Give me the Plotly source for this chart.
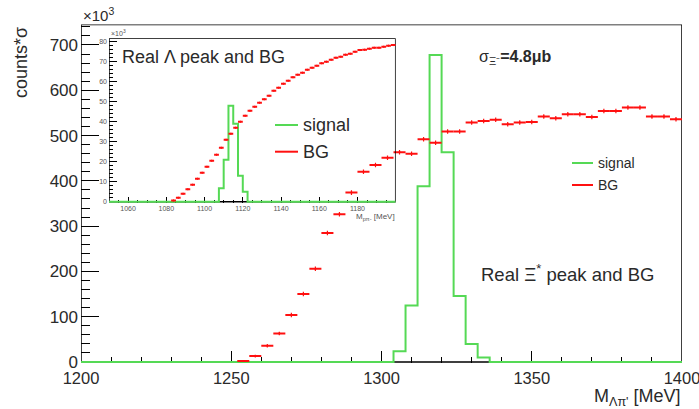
import plotly.graph_objects as go

W, H = 699, 409

# ---------------- data: main plot (4 MeV bins) ----------------
main_bin_width = 4
sig_main_lo = [1304, 1308, 1312, 1316, 1320, 1324, 1328, 1332]
sig_main_counts = [24, 125, 388, 678, 463, 146, 40, 10]

bg_main_x = [1254, 1258, 1262, 1266, 1270, 1274, 1278, 1282, 1286, 1290,
             1294, 1298, 1302, 1306, 1310, 1314, 1318, 1322, 1326, 1330,
             1334, 1338, 1342, 1346, 1350, 1354, 1358, 1362, 1366, 1370,
             1374, 1378, 1382, 1386, 1390, 1394, 1398]
bg_main_y = [2, 13, 36, 63, 104, 150, 206, 285, 326, 374,
             420, 435, 451, 463, 460, 492, 484, 509, 509, 529,
             532, 535, 525, 529, 530, 542, 538, 547, 547, 541,
             554, 554, 562, 562, 542, 542, 536]
bg_main_err = [2, 3, 4, 4, 5, 5, 5, 5, 5, 5,
               5, 5, 5, 5, 5, 5, 5, 5, 5, 5,
               5, 5, 5, 5, 5, 5, 5, 5, 5, 5,
               5, 5, 5, 5, 5, 5, 5]

# ---------------- data: inset (2.5 MeV bins, x10^3) ----------------
inset_bin_width = 2.5
sig_in_lo = [1107.5, 1110.0, 1112.5, 1115.0, 1117.5, 1120.0]
sig_in_counts = [6.7, 21.0, 48.0, 39.0, 13.0, 5.0]

bg_in_x = [1083.75, 1086.25, 1088.75, 1091.25, 1093.75, 1096.25, 1098.75,
           1101.25, 1103.75, 1106.25, 1108.75, 1111.25, 1113.75, 1116.25,
           1118.75, 1121.25, 1123.75, 1126.25, 1128.75, 1131.25, 1133.75,
           1136.25, 1138.75, 1141.25, 1143.75, 1146.25, 1148.75, 1151.25,
           1153.75, 1156.25, 1158.75, 1161.25, 1163.75, 1166.25, 1168.75,
           1171.25, 1173.75, 1176.25, 1178.75, 1181.25, 1183.75, 1186.25,
           1188.75, 1191.25, 1193.75, 1196.25, 1198.75]
bg_in_y = [0.6, 2.0, 4.0, 6.2, 8.5, 11.5, 14.5,
           17.5, 20.5, 23.5, 27.0, 31.0, 34.0, 37.0,
           40.0, 43.0, 45.5, 47.5, 49.5, 51.2, 53.0,
           55.5, 57.0, 59.0, 60.5, 62.2, 63.5, 64.5,
           66.0, 67.0, 68.0, 69.2, 70.0, 71.0, 72.0,
           72.5, 73.5, 74.0, 75.0, 75.8, 76.0, 76.5,
           77.0, 77.0, 77.5, 78.0, 78.3]

main_xrange = [1200, 1400]
main_yrange = [-3, 745]
inset_xrange = [1050, 1200]
inset_yrange = [-0.8, 81.7]

GREEN = "#55d955"
RED = "#ff1010"
TXT = "#2a2a2a"
FONT = "Liberation Sans"


def step_outline(lo, counts, width, xmin, xmax):
    xs = [xmin, lo[0]]
    ys = [0, 0]
    for l, c in zip(lo, counts):
        xs += [l, l + width]
        ys += [c, c]
    xs += [lo[-1] + width, xmax]
    ys += [0, 0]
    return xs, ys


def px(x):
    return x / W


def py(y):
    return 1 - y / H


fig = go.Figure()

# main histograms
sx, sy = step_outline(sig_main_lo, sig_main_counts, main_bin_width, *main_xrange)
fig.add_trace(go.Scatter(x=sx, y=sy, mode="lines", line=dict(color=GREEN, width=2),
                         xaxis="x", yaxis="y", hoverinfo="skip"))
fig.add_trace(go.Scatter(x=bg_main_x, y=bg_main_y, mode="markers",
                         marker=dict(color=RED, size=2),
                         error_x=dict(type="constant", value=main_bin_width / 2, width=0,
                                      color=RED, thickness=2),
                         error_y=dict(type="data", array=bg_main_err, width=0,
                                      color=RED, thickness=1.2),
                         xaxis="x", yaxis="y"))

# inset histograms
ix, iy = step_outline(sig_in_lo, sig_in_counts, inset_bin_width, *inset_xrange)
fig.add_trace(go.Scatter(x=ix, y=iy, mode="lines", line=dict(color=GREEN, width=2),
                         xaxis="x2", yaxis="y2", hoverinfo="skip"))
fig.add_trace(go.Scatter(x=bg_in_x, y=bg_in_y, mode="markers",
                         marker=dict(color=RED, size=1.5),
                         error_x=dict(type="constant", value=inset_bin_width / 2, width=0,
                                      color=RED, thickness=2),
                         error_y=dict(type="constant", value=0.5, width=0,
                                      color=RED, thickness=1),
                         xaxis="x2", yaxis="y2"))

axis_common = dict(showline=False, showgrid=False, zeroline=False, ticks="inside",
                   tickcolor="black", layer="below traces", ticklabeloverflow="allow",
                   automargin=False)

fig.update_layout(
    template="none",
    width=W, height=H, margin=dict(l=0, r=0, t=0, b=0, autoexpand=False),
    paper_bgcolor="white", plot_bgcolor="rgba(0,0,0,0)",
    showlegend=False,
    font=dict(family=FONT, color=TXT),
    xaxis=dict(domain=[81 / W, 682 / W], range=main_xrange, anchor="y",
               tickvals=[1200, 1250, 1300, 1350, 1400], ticklen=12, tickwidth=1.2,
               minor=dict(ticks="inside", dtick=10, ticklen=6, tickcolor="black", tickwidth=1),
               tickfont=dict(size=16.5, family=FONT, color=TXT), ticklabelstandoff=3,
               **axis_common),
    yaxis=dict(domain=[(H - 363.36) / H, (H - 24.59) / H], range=main_yrange, anchor="x",
               tickvals=[0, 100, 200, 300, 400, 500, 600, 700], ticklen=18, tickwidth=1.2,
               minor=dict(ticks="inside", dtick=20, tick0=0, ticklen=9, tickcolor="black", tickwidth=1),
               tickfont=dict(size=17, family=FONT, color=TXT), ticklabelstandoff=2,
               **axis_common),
    xaxis2=dict(domain=[109 / W, 395.7 / W], range=inset_xrange, anchor="y2",
                tickvals=[1060, 1080, 1100, 1120, 1140, 1160, 1180], ticklen=6, tickwidth=1,
                minor=dict(ticks="inside", dtick=5, ticklen=3, tickcolor="black", tickwidth=1),
                tickfont=dict(size=7, family=FONT, color="#555"), **axis_common),
    yaxis2=dict(domain=[(H - 203.3) / H, (H - 38.3) / H], range=inset_yrange, anchor="x2",
                tickvals=[0, 10, 20, 30, 40, 50, 60, 70, 80], ticklen=8, tickwidth=1,
                minor=dict(ticks="inside", dtick=2, tick0=0, ticklen=4, tickcolor="black", tickwidth=1),
                tickfont=dict(size=7, family=FONT, color="#555"), ticklabelstandoff=1,
                **axis_common),
)

# frames (drawn below traces so the green zero-line covers the base)
fig.add_shape(type="rect", xref="x", yref="y", x0=main_xrange[0], x1=main_xrange[1],
              y0=0, y1=main_yrange[1], line=dict(color="black", width=1.5), layer="below")
fig.add_shape(type="rect", xref="x2", yref="y2", x0=inset_xrange[0], x1=inset_xrange[1],
              y0=0, y1=inset_yrange[1], line=dict(color="black", width=1.5), layer="below")

# legends (drawn manually, ROOT style)
for (x0, x1, y, col) in [(572, 593, 163, GREEN), (572, 593, 185, RED),
                         (275, 298, 125, GREEN), (275, 298, 151.7, RED)]:
    fig.add_shape(type="line", xref="paper", yref="paper", x0=px(x0), x1=px(x1),
                  y0=py(y), y1=py(y), line=dict(color=col, width=2))


def label(text, x, y, size, xanchor="left", yanchor="middle", angle=0, color=TXT):
    fig.add_annotation(text=text, xref="paper", yref="paper", x=px(x), y=py(y),
                       xanchor=xanchor, yanchor=yanchor, showarrow=False, textangle=angle,
                       font=dict(size=size, family=FONT, color=color))


label("signal", 596, 163, 14)
label("BG", 596, 185, 14)
label("signal", 301, 125, 18)
label("BG", 301, 151.7, 18)
label("Real Λ peak and BG", 120, 57, 18)
label("Real Ξ<sup>*</sup> peak and BG", 479, 273, 18.5)
label("σ<sub>Ξ⁻</sub><b>=4.8μb</b>", 477, 58, 16)
label("×10<sup>3</sup>", 81, 14, 15)
label("×10<sup>3</sup>", 109, 33, 7, color="#555")
label("counts*σ", 21, 63, 18, xanchor="center", angle=-90)
label("M<sub>Λπ'</sub> [MeV]", 683, 397.5, 18, xanchor="right")
label("M<sub>pπ-</sub> [MeV]", 397, 217, 8, xanchor="right", color="#555")

fig.write_html("out.html")
